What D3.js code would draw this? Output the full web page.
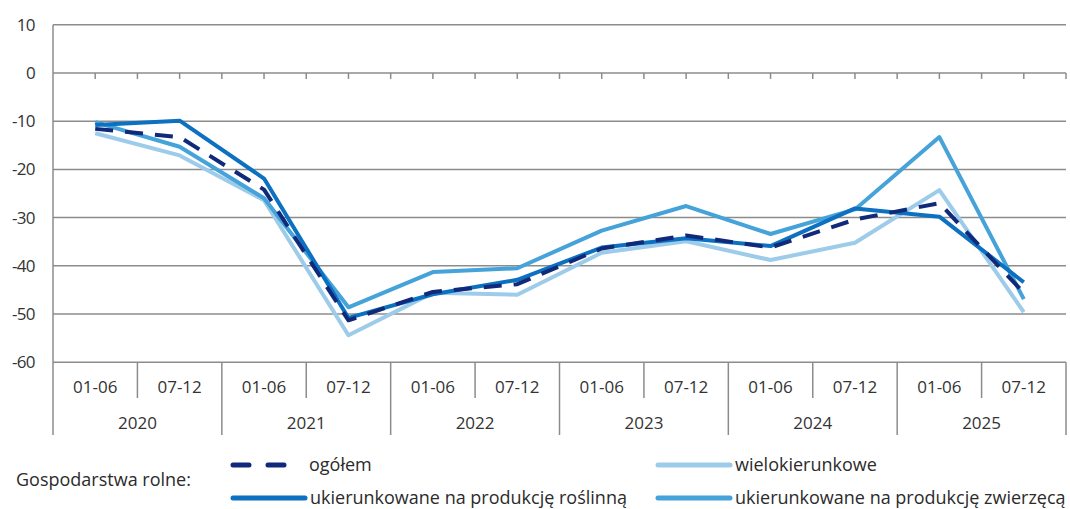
<!DOCTYPE html>
<html>
<head>
<meta charset="utf-8">
<script src="https://cdn.jsdelivr.net/npm/d3@7"></script>
<style>
  body { margin: 0; background: #fff; }
  text { font-family: "Open Sans", sans-serif; fill: #333; }
  .legend text { fill: #2b2b2b; }
</style>
</head>
<body>
<svg id="chart" width="1070" height="509"></svg>
<script>
// Data

const years = ["2020", "2021", "2022", "2023", "2024", "2025"];
const halves = ["01-06", "07-12"];
const periods = years.flatMap(y => halves.map(h => y + " " + h));

const ogolem        = [-11.6, -13.3, -24.2, -51.3, -45.4, -43.8, -36.4, -33.7, -36.2, -30.4, -27.0, -45.6];
const wielokier     = [-12.5, -17.1, -26.4, -54.4, -45.6, -46.0, -37.3, -34.9, -38.8, -35.2, -24.3, -49.6];
const roslinna      = [-10.8,  -9.9, -21.9, -50.8, -45.9, -42.9, -36.2, -34.3, -35.9, -28.1, -29.8, -43.4];
const zwierzeca     = [-10.2, -15.3, -26.0, -48.6, -41.3, -40.5, -32.7, -27.6, -33.4, -28.3, -13.3, -46.9];

const yTicks = [10, 0, -10, -20, -30, -40, -50, -60];

const series = [
  { name: "wielokierunkowe", values: wielokier, color: "#9dcbea", dash: null },
  { name: "ukierunkowane na produkcję zwierzęcą", values: zwierzeca, color: "#45a3da", dash: null },
  { name: "ukierunkowane na produkcję roślinną", values: roslinna, color: "#0b71c0", dash: null },
  { name: "ogółem", values: ogolem, color: "#10297a", dash: "18,12" }
];

// Dimensions

const plot = { left: 53, right: 1066, top: 24.7, bottom: 362.3 };
const gridColor = "#8c8c8c";
const axisFont = "17px";
const legendFont = "18px";

const svg = d3.select("#chart");

const x = d3.scaleBand()
  .domain(periods)
  .range([plot.left, plot.right]);

const y = d3.scaleLinear()
  .domain([-60, 10])
  .range([plot.bottom, plot.top]);

// Grid lines

svg.append("g").selectAll("line")
  .data(yTicks)
  .enter()
  .append("line")
  .attr("x1", plot.left)
  .attr("x2", plot.right)
  .attr("y1", d => y(d))
  .attr("y2", d => y(d))
  .attr("stroke", gridColor)
  .attr("stroke-width", 1.5);

// Y axis labels

svg.append("g").selectAll("text")
  .data(yTicks)
  .enter()
  .append("text")
  .attr("x", 35)
  .attr("y", d => y(d))
  .attr("dy", "0.35em")
  .attr("text-anchor", "end")
  .style("font-size", axisFont)
  .style("letter-spacing", "-0.6px")
  .text(d => d);

// Y axis line

svg.append("line")
  .attr("x1", plot.left).attr("x2", plot.left)
  .attr("y1", plot.top).attr("y2", plot.bottom)
  .attr("stroke", gridColor)
  .attr("stroke-width", 1.5);

// Tick marks on the zero line (category centres and boundaries)

const halfTicks = d3.range(1, periods.length * 2 + 1)
  .map(k => plot.left + k * x.bandwidth() / 2);

svg.append("g").selectAll("line")
  .data(halfTicks)
  .enter()
  .append("line")
  .attr("x1", d => d).attr("x2", d => d)
  .attr("y1", y(0)).attr("y2", y(0) + 6)
  .attr("stroke", gridColor)
  .attr("stroke-width", 1.5);

// Bottom category axis

const axisG = svg.append("g");

// separators: short between halves, long at year boundaries
axisG.selectAll(".sep-short")
  .data(years)
  .enter()
  .append("line")
  .attr("x1", d => x(d + " 07-12")).attr("x2", d => x(d + " 07-12"))
  .attr("y1", plot.bottom).attr("y2", 398)
  .attr("stroke", gridColor)
  .attr("stroke-width", 1.5);

const yearEdges = years.map(d => x(d + " 01-06")).concat([plot.right]);

axisG.selectAll(".sep-long")
  .data(yearEdges)
  .enter()
  .append("line")
  .attr("x1", d => d).attr("x2", d => d)
  .attr("y1", plot.bottom).attr("y2", 435)
  .attr("stroke", gridColor)
  .attr("stroke-width", 1.5);

axisG.selectAll(".lbl-half")
  .data(periods)
  .enter()
  .append("text")
  .attr("x", d => x(d) + x.bandwidth() / 2)
  .attr("y", 387)
  .attr("dy", "0.35em")
  .attr("text-anchor", "middle")
  .style("font-size", axisFont)
  .text(d => d.split(" ")[1]);

axisG.selectAll(".lbl-year")
  .data(years)
  .enter()
  .append("text")
  .attr("x", d => x(d + " 07-12"))
  .attr("y", 423)
  .attr("dy", "0.35em")
  .attr("text-anchor", "middle")
  .style("font-size", axisFont)
  .text(d => d);

// Lines

const line = d3.line()
  .x((d, i) => x(periods[i]) + x.bandwidth() / 2)
  .y(d => y(d));

svg.append("g").selectAll("path")
  .data(series)
  .enter()
  .append("path")
  .attr("d", d => line(d.values))
  .attr("fill", "none")
  .attr("stroke", d => d.color)
  .attr("stroke-width", 4)
  .attr("stroke-linejoin", "round")
  .attr("stroke-dasharray", d => d.dash);

// Legend

const legend = svg.append("g").attr("class", "legend");

legend.append("text")
  .attr("x", 16)
  .attr("y", 480)
  .attr("dy", "0.35em")
  .style("font-size", legendFont)
  .text("Gospodarstwa rolne:");

const legendItems = [
  { s: series[3], x: 233, y: 465 },
  { s: series[0], x: 658, y: 465 },
  { s: series[2], x: 233, y: 498 },
  { s: series[1], x: 658, y: 498 }
];

const item = legend.selectAll(".item")
  .data(legendItems)
  .enter()
  .append("g");

item.append("line")
  .attr("x1", d => d.x)
  .attr("x2", d => d.s.dash ? d.x + 56 : d.x + 72)
  .attr("y1", d => d.y)
  .attr("y2", d => d.y)
  .attr("stroke", d => d.s.color)
  .attr("stroke-width", 5)
  .attr("stroke-linecap", "round")
  .attr("stroke-dasharray", d => d.s.dash ? "16,19" : null);

item.append("text")
  .attr("x", d => d.s.dash ? d.x + 76 : d.x + 77)
  .attr("y", d => d.y)
  .attr("dy", "0.35em")
  .style("font-size", legendFont)
  .text(d => d.s.name);
</script>
</body>
</html>
